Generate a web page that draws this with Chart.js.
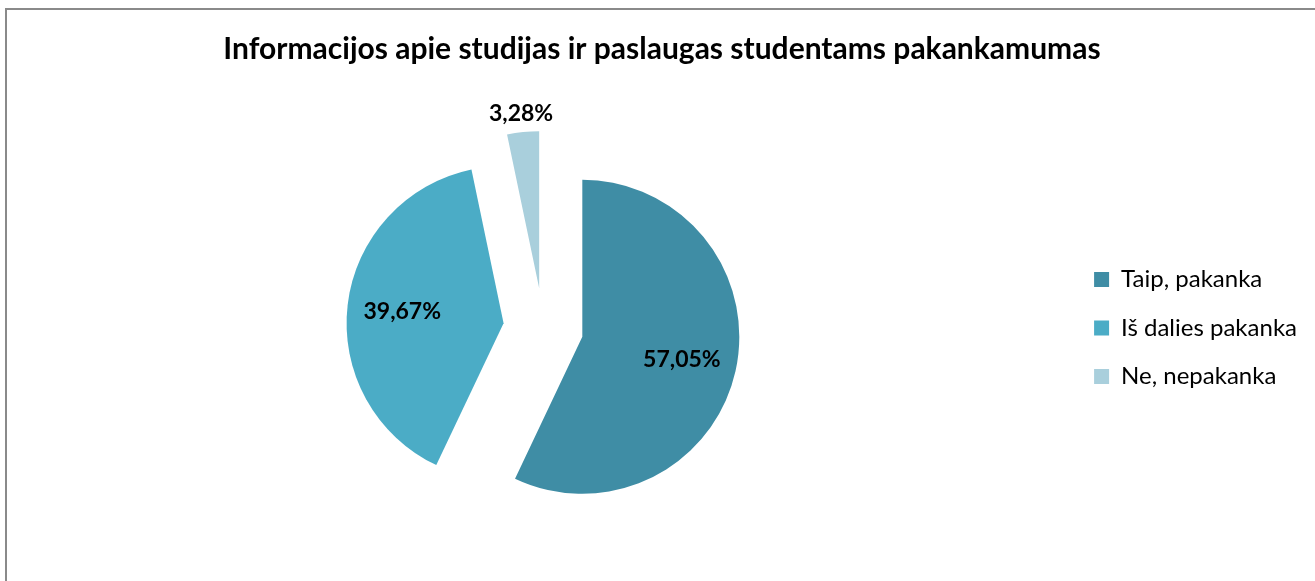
<!DOCTYPE html>
<html><head><meta charset="utf-8">
<script src="https://cdn.jsdelivr.net/npm/chart.js@4.4.0/dist/chart.umd.min.js"></script>
<style>
html,body{margin:0;padding:0;background:#fff;overflow:hidden;width:1315px;height:581px}
#frame{position:absolute;left:5px;top:8px;width:1400px;height:700px;border-top:2px solid #8a8a8a;border-left:2px solid #8a8a8a;box-sizing:border-box}
#wrap{position:absolute;left:0;top:0;width:1315px;height:581px}
</style></head><body>
<div id="frame"></div>
<div id="wrap"><canvas id="c" width="1315" height="581"></canvas></div>
<script>
const categories = ['Taip, pakanka', 'Iš dalies pakanka', 'Ne, nepakanka'];
const values = [57.05, 39.67, 3.28];
const valueLabels = ['57,05%', '39,67%', '3,28%'];
const titleText = 'Informacijos apie studijas ir paslaugas studentams pakankamumas';

const colors = ['#3F8DA5', '#4BACC6', '#A9CFDC'];
const labelPlacement = ['inside', 'inside', 'outside'];
const EXPLODE = 40;
const FONT = 'Lato, "Open Sans", sans-serif';

// Draw each library arc element shifted outward (exploded pie, no radius change)
const explodedPie = {
  id: 'explodedPie',
  beforeDatasetsDraw(chart) {
    const ctx = chart.ctx;
    const meta = chart.getDatasetMeta(0);
    meta.data.forEach((arc) => {
      const p = arc.getProps(['startAngle', 'endAngle'], true);
      const mid = (p.startAngle + p.endAngle) / 2;
      ctx.save();
      ctx.translate(Math.cos(mid) * EXPLODE, Math.sin(mid) * EXPLODE);
      arc.draw(ctx, chart.chartArea);
      ctx.restore();
    });
    ctx.save();
    ctx.font = 'bold 23px ' + FONT;
    ctx.fillStyle = '#000';
    ctx.textAlign = 'center';
    ctx.textBaseline = 'middle';
    meta.data.forEach((arc, i) => {
      const p = arc.getProps(['x', 'y', 'startAngle', 'endAngle', 'outerRadius'], true);
      const mid = (p.startAngle + p.endAngle) / 2;
      const d = EXPLODE + (labelPlacement[i] === 'inside' ? p.outerRadius * 0.65 : p.outerRadius + 19);
      ctx.fillText(valueLabels[i], p.x + Math.cos(mid) * d, p.y + Math.sin(mid) * d);
    });
    ctx.restore();
    return false;
  }
};

new Chart(document.getElementById('c'), {
  type: 'pie',
  data: {
    labels: categories,
    datasets: [{
      data: values,
      backgroundColor: colors,
      borderWidth: 0,
      radius: 157
    }]
  },
  options: {
    responsive: false,
    animation: false,
    devicePixelRatio: 1,
    layout: { padding: { left: 17, right: 8, top: 0, bottom: 0 } },
    plugins: {
      title: {
        display: true,
        text: titleText,
        color: '#000',
        font: { family: FONT, size: 30, weight: 'bold' },
        padding: { top: 31.5, bottom: 7.5 }
      },
      legend: {
        position: 'right',
        fullSize: false,
        labels: {
          color: '#000',
          font: { family: FONT, size: 24 },
          boxWidth: 15,
          boxHeight: 15,
          padding: 24.5
        }
      },
      tooltip: { enabled: false }
    }
  },
  plugins: [explodedPie]
});
</script>
</body></html>
